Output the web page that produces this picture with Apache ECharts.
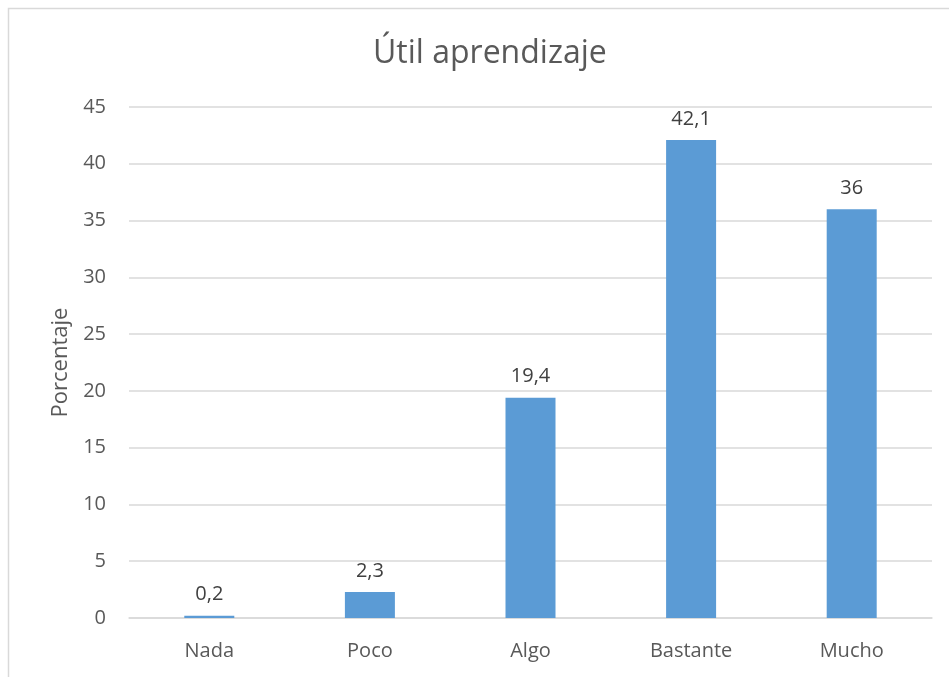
<!DOCTYPE html>
<html><head><meta charset="utf-8">
<script src="https://cdn.jsdelivr.net/npm/echarts@6/dist/echarts.min.js"></script>
<style>html,body{margin:0;padding:0;background:#fff}#c{width:949px;height:677px}</style>
</head><body><div id="c"></div>
<script>
const titleText = 'Útil aprendizaje';
const yAxisName = 'Porcentaje';
const categories = ['Nada', 'Poco', 'Algo', 'Bastante', 'Mucho'];
const values = [0.2, 2.3, 19.4, 42.1, 36];

const chart = echarts.init(document.getElementById('c'));
const font = '"Open Sans", "Noto Sans", sans-serif';
chart.setOption({
  animation: false,
  backgroundColor: '#ffffff',
  graphic: [{
    type: 'rect', shape: {x: 8.5, y: 8.5, width: 1200, height: 1200},
    style: {fill: 'none', stroke: '#d9d9d9', lineWidth: 1.5}, silent: true
  }],
  title: {
    text: titleText, left: 368, top: 33,
    textStyle: {fontFamily: font, fontSize: 32, fontWeight: 'normal', color: '#595959'}
  },
  grid: {left: 129, right: 17, top: 107, bottom: 59, containLabel: false},
  xAxis: {
    type: 'category', data: categories,
    axisLine: {lineStyle: {color: '#d9d9d9', width: 1.5}},
    axisTick: {show: false},
    axisLabel: {fontFamily: font, fontSize: 20, color: '#595959', margin: 23}
  },
  yAxis: {
    type: 'value', min: 0, max: 45, interval: 5,
    name: yAxisName, nameLocation: 'middle', nameGap: 56, nameRotate: 90,
    nameTextStyle: {fontFamily: font, fontSize: 22, color: '#595959'},
    axisLine: {show: false}, axisTick: {show: false},
    axisLabel: {fontFamily: font, fontSize: 20, color: '#595959', margin: 23},
    splitLine: {lineStyle: {color: '#d9d9d9', width: 1.5}}
  },
  series: [{
    type: 'bar', data: values, barWidth: 50,
    itemStyle: {color: '#5b9bd5'},
    label: {
      show: true, position: 'top', distance: 11,
      fontFamily: font, fontSize: 20, color: '#404040',
      formatter: p => String(p.value).replace('.', ',')
    }
  }]
});
</script></body></html>
